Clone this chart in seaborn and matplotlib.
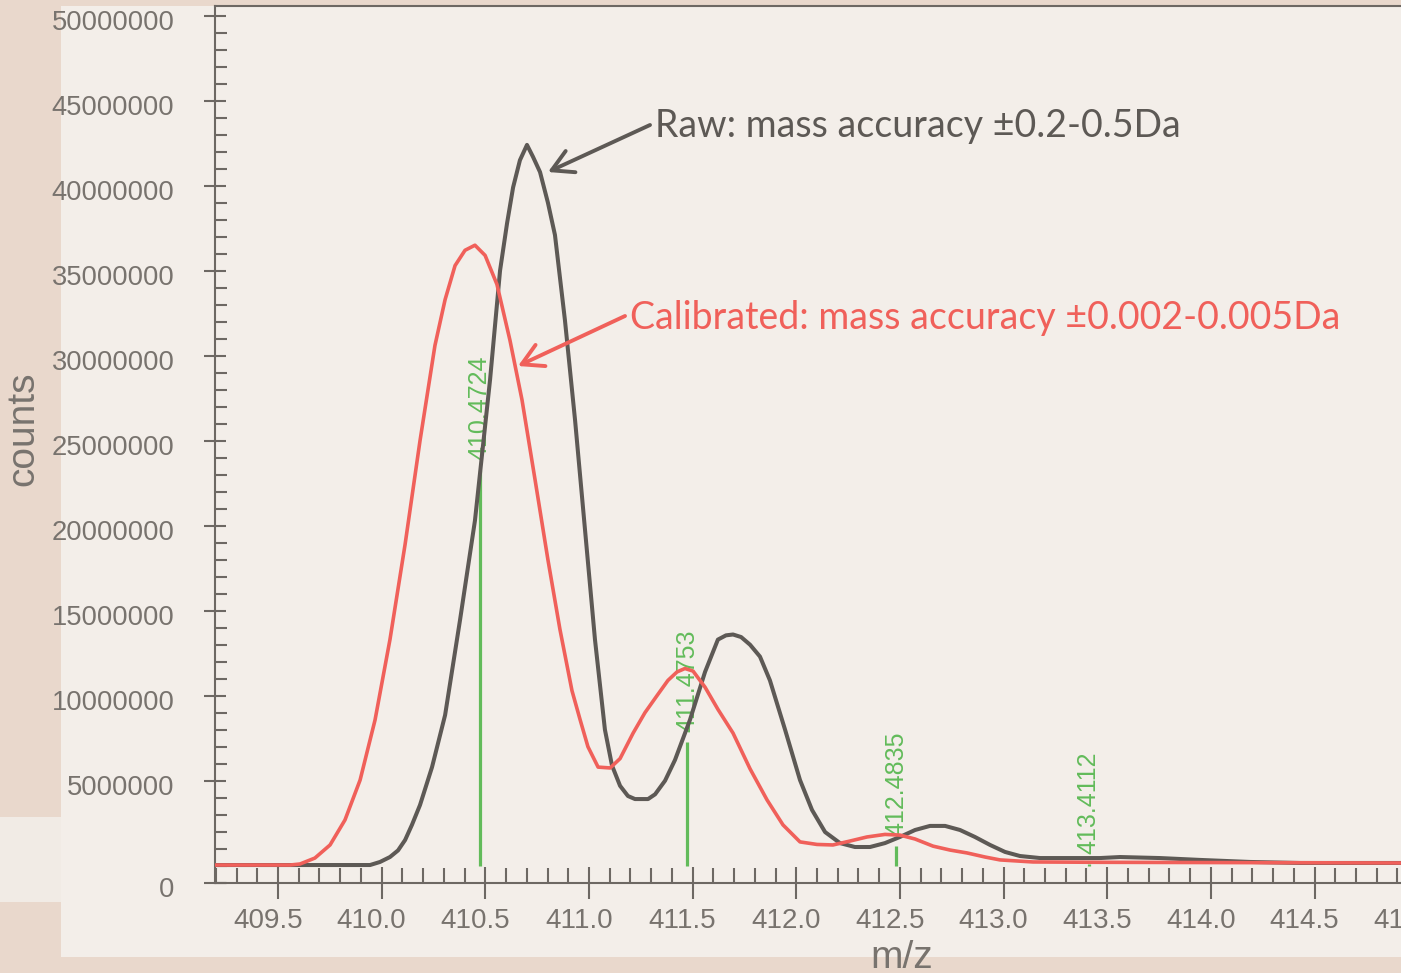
import numpy as np
import pandas as pd
import matplotlib
matplotlib.use("Agg")
import matplotlib.pyplot as plt
import matplotlib.transforms as mtransforms
from matplotlib.ticker import MultipleLocator, FixedLocator, FixedFormatter, FormatStrFormatter
from matplotlib.patches import Rectangle
import seaborn as sns

# ---------------- data ----------------
mz_raw = [409.196, 409.944, 409.992, 410.040, 410.079, 410.113, 410.146, 410.185,
          410.243, 410.306, 410.378, 410.450, 410.523, 410.571, 410.605, 410.634,
          410.667, 410.701, 410.730, 410.764, 410.802, 410.836, 410.884, 410.933,
          410.981, 411.029, 411.077, 411.111, 411.150, 411.188, 411.222, 411.285,
          411.319, 411.367, 411.415, 411.487, 411.560, 411.622, 411.661, 411.695,
          411.734, 411.777, 411.825, 411.873, 411.946, 412.018, 412.076, 412.139,
          412.211, 412.283, 412.356, 412.428, 412.500, 412.573, 412.645, 412.718,
          412.790, 412.862, 412.935, 413.007, 413.079, 413.176, 413.465, 413.562,
          413.755, 413.948, 414.189, 414.430, 414.917]
counts_raw_m = [0.04, 0.04, 0.22, 0.51, 0.90, 1.51, 2.40, 3.57,
                5.80, 8.86, 14.45, 20.3, 28.6, 35.0, 37.8, 39.9,
                41.5, 42.4, 41.7, 40.8, 39.0, 37.1, 32.1, 26.2,
                19.75, 13.3, 8.0, 5.9, 4.7, 4.1, 3.92, 3.92,
                4.2, 5.0, 6.22, 8.57, 11.4, 13.3, 13.55, 13.6,
                13.45, 13.0, 12.3, 10.9, 8.0, 5.04, 3.28, 1.98,
                1.33, 1.10, 1.10, 1.33, 1.69, 2.10, 2.34, 2.34,
                2.10, 1.69, 1.22, 0.81, 0.57, 0.45, 0.45, 0.51,
                0.45, 0.34, 0.22, 0.16, 0.16]

mz_cal = [409.196, 409.558, 409.606, 409.678, 409.751, 409.823, 409.896, 409.968,
          410.040, 410.113, 410.185, 410.257, 410.306, 410.354, 410.402, 410.450,
          410.499, 410.556, 410.619, 410.677, 410.740, 410.802, 410.860, 410.918,
          410.957, 410.995, 411.044, 411.102, 411.150, 411.213, 411.270, 411.328,
          411.381, 411.425, 411.463, 411.502, 411.560, 411.622, 411.695, 411.777,
          411.859, 411.936, 412.018, 412.100, 412.177, 412.259, 412.341, 412.428,
          412.500, 412.573, 412.660, 412.742, 412.824, 412.911, 412.983, 413.142,
          413.465, 414.917]
counts_cal_m = [0.04, 0.04, 0.10, 0.45, 1.22, 2.69, 5.04, 8.57,
                13.3, 18.9, 25.0, 30.6, 33.3, 35.3, 36.2, 36.5,
                35.9, 34.2, 30.9, 27.4, 22.7, 18.0, 13.9, 10.3,
                8.6, 7.0, 5.8, 5.75, 6.3, 7.8, 9.0, 10.0,
                10.9, 11.4, 11.6, 11.45, 10.5, 9.2, 7.8, 5.7,
                3.87, 2.4, 1.4, 1.25, 1.22, 1.45, 1.69, 1.84,
                1.80, 1.57, 1.15, 0.92, 0.75, 0.51, 0.34, 0.22,
                0.20, 0.16]

peak_mz = [410.4724, 411.4753, 412.4835, 413.4112]
peak_counts_m = [23.3, 7.3, 1.16, 0.1]
peak_labels = ["410.4724", "411.4753", "412.4835", "413.4112"]

y_tick_values_m = [-1.035, 5, 10, 15, 20, 25, 30, 35, 40, 45, 50]
y_tick_labels = ["0", "5000000", "10000000", "15000000", "20000000", "25000000",
                 "30000000", "35000000", "40000000", "45000000", "50000000"]

raw_label = "Raw: mass accuracy \u00b10.2-0.5Da"
cal_label = "Calibrated: mass accuracy \u00b10.002-0.005Da"
x_label = "m/z"
y_label = "counts"

# ---------------- styling ----------------
sns.set_theme(style="ticks")
plt.rcParams["font.family"] = ["Liberation Sans", "DejaVu Sans"]

W, H, DPI = 1401, 973, 100
TAN = "#e9d8cc"
PANEL = "#f3eee9"
GRAY_TXT = "#78736e"
SPINE = "#6d6863"
RAW_C = "#5d5955"
CAL_C = "#f0605a"
GREEN = "#62bb5a"

fig = plt.figure(figsize=(W / DPI, H / DPI), dpi=DPI, facecolor=TAN)

def fx(px):
    return px / W

def fy(py):
    return 1 - py / H

# light panel behind the chart (screenshot background)
fig.patches.append(Rectangle((fx(61), fy(957)), fx(W - 61), fy(6) - fy(957),
                             transform=fig.transFigure, facecolor=PANEL,
                             edgecolor="none", zorder=-10))
fig.patches.append(Rectangle((0, fy(902)), fx(61), fy(817) - fy(902),
                             transform=fig.transFigure, facecolor="#f1ebe5",
                             edgecolor="none", zorder=-10))

# axes geometry: x 409.5 -> px 278, 207.3 px per unit; y 0 -> px 865.7, 17 px per 1e6
x_left, x_right = 409.196, 415.2
px_per_unit = 207.3
ax_left_px = 215
ax_right_px = 278 + (x_right - 409.5) * px_per_unit
ax_top_px, ax_bot_px = 5.5, 883.3
y_top = (865.7 - ax_top_px) / 17.0 * 1e6
y_bot = (865.7 - ax_bot_px) / 17.0 * 1e6

ax = fig.add_axes([fx(ax_left_px), fy(ax_bot_px), fx(ax_right_px - ax_left_px),
                   (ax_bot_px - ax_top_px) / H])
ax.set_facecolor(PANEL)

raw_df = pd.DataFrame({"mz": mz_raw, "counts": np.array(counts_raw_m) * 1e6})
cal_df = pd.DataFrame({"mz": mz_cal, "counts": np.array(counts_cal_m) * 1e6})

ax.vlines(peak_mz, 0, np.array(peak_counts_m) * 1e6, color=GREEN, linewidth=2.3, zorder=2)
for m, c, lab in zip(peak_mz, peak_counts_m, peak_labels):
    ax.annotate(lab, (m, c * 1e6), xytext=(0, 7), textcoords="offset points",
                rotation=90, ha="center", va="bottom", color=GREEN, fontsize=18,
                zorder=2)

sns.lineplot(data=raw_df, x="mz", y="counts", ax=ax, color=RAW_C, linewidth=2.9,
             sort=False, estimator=None, zorder=3)
sns.lineplot(data=cal_df, x="mz", y="counts", ax=ax, color=CAL_C, linewidth=2.6,
             sort=False, estimator=None, zorder=4)
for ln in ax.get_lines():
    ln.set_solid_joinstyle("round")

ax.set_xlim(x_left, x_right)
ax.set_ylim(y_bot, y_top)
ax.set_xlabel("")
ax.set_ylabel("")

# annotations
def dx(px):
    return 409.5 + (px - 278) / px_per_unit

def dy(py):
    return (865.7 - py) / 17.0 * 1e6

ANN_FONT = ["Lato", "DejaVu Sans"]
ax.text(dx(655), dy(137), raw_label, color=RAW_C, fontsize=27, family=ANN_FONT,
        ha="left", va="baseline", zorder=6)
ax.text(dx(630), dy(329), cal_label, color=CAL_C, fontsize=27, family=ANN_FONT,
        ha="left", va="baseline", zorder=6)
ax.annotate("", xy=(dx(548), dy(172)), xytext=(dx(650), dy(125)),
            arrowprops=dict(arrowstyle="->,head_length=0.75,head_width=0.42",
                            color=RAW_C, lw=2.8, mutation_scale=20,
                            shrinkA=0, shrinkB=0), zorder=6)
ax.annotate("", xy=(dx(518), dy(366)), xytext=(dx(625), dy(316)),
            arrowprops=dict(arrowstyle="->,head_length=0.75,head_width=0.42",
                            color=CAL_C, lw=2.8, mutation_scale=20,
                            shrinkA=0, shrinkB=0), zorder=6)

# spines & ticks
for s in ["left", "bottom", "top"]:
    ax.spines[s].set_color(SPINE)
    ax.spines[s].set_linewidth(1.5)
ax.spines["right"].set_visible(False)

ax.xaxis.set_major_locator(MultipleLocator(0.5))
ax.xaxis.set_minor_locator(MultipleLocator(0.1))
ax.xaxis.set_major_formatter(FormatStrFormatter("%.1f"))
ax.yaxis.set_major_locator(FixedLocator([v * 1e6 for v in y_tick_values_m]))
ax.yaxis.set_major_formatter(FixedFormatter(y_tick_labels))
ax.yaxis.set_minor_locator(MultipleLocator(1e6))

ax.tick_params(axis="x", which="major", direction="inout", length=23, width=1.5,
               color=SPINE, labelcolor=GRAY_TXT, labelsize=20, pad=6, top=False)
ax.tick_params(axis="x", which="minor", direction="in", length=10.8, width=1.5,
               color=SPINE, top=False)
ax.tick_params(axis="y", which="major", direction="inout", length=16.5, width=1.5,
               color=SPINE, labelcolor=GRAY_TXT, labelsize=19.7, pad=21, right=False)
ax.tick_params(axis="y", which="minor", direction="in", length=8.6, width=1.5,
               color=SPINE, right=False)

fig.text(fx(41), fy(428.5), y_label, rotation=90, ha="right", va="center",
         color=GRAY_TXT, fontsize=28)
fig.text(fx(902), fy(940), x_label, ha="center", va="top", color=GRAY_TXT, fontsize=28)

fig.canvas.draw()
xoff = mtransforms.ScaledTranslation(-10 / DPI, 0, fig.dpi_scale_trans)
yoff = mtransforms.ScaledTranslation(0, -4 / DPI, fig.dpi_scale_trans)
for t in ax.xaxis.get_major_ticks():
    t.label1.set_transform(t.label1.get_transform() + xoff)
for t in ax.yaxis.get_major_ticks():
    t.label1.set_transform(t.label1.get_transform() + yoff)

fig.savefig("out.png", dpi=DPI, facecolor=TAN)
